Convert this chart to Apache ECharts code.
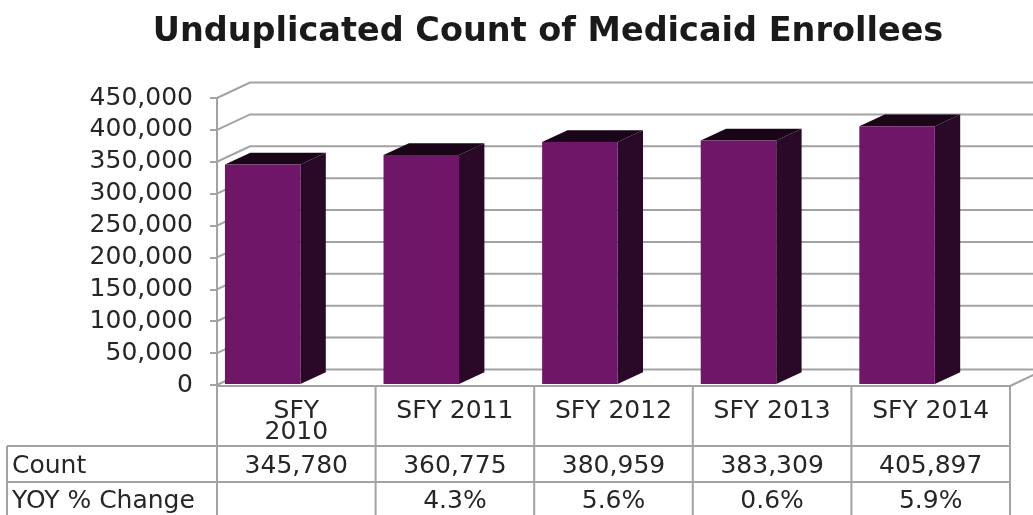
<!DOCTYPE html>
<html>
<head>
<meta charset="utf-8">
<script src="https://cdn.jsdelivr.net/npm/echarts@6/dist/echarts.min.js"></script>
<style>
html,body{margin:0;padding:0;background:#fff;}
#chart{width:1033px;height:515px;}
</style>
</head>
<body>
<div id="chart"></div>
<script>
var titleText = 'Unduplicated Count of Medicaid Enrollees';
var categories = ['SFY 2010', 'SFY 2011', 'SFY 2012', 'SFY 2013', 'SFY 2014'];
var headerLabels = ['SFY\n2010', 'SFY 2011', 'SFY 2012', 'SFY 2013', 'SFY 2014'];
var counts = [345780, 360775, 380959, 383309, 405897];
var yoyChange = ['', '4.3%', '5.6%', '0.6%', '5.9%'];
var rowLabels = ['Count', 'YOY % Change'];
var yTicks = [0, 50000, 100000, 150000, 200000, 250000, 300000, 350000, 400000, 450000];

var FONT = '"DejaVu Sans", sans-serif';
var TXT = '#262626';
var LINE = '#a3a3a3';
var FRONT = '#6f1669';
var SIDE = '#2a0827';
var TOP = '#1a0418';
var FS = 25;

// table layout (pixels)
var TBL_TOP = 386, ROW1 = 446, ROW2 = 482, TBL_BOTTOM = 520, LABEL_LEFT = 7;

var chart = echarts.init(document.getElementById('chart'), null, {renderer: 'canvas'});

function wallRender(params, api) {
  var cs = params.coordSys;
  var catW = api.size([1, 0])[0];
  var dx = catW * 0.208, dy = -dx * 0.47;
  var y = api.coord([0, api.value(0)])[1];
  var left = cs.x;
  var children = [{
    type: 'polyline',
    shape: {points: [[left, y], [left + dx, y + dy], [cs.x + cs.width + dx + 40, y + dy]]},
    style: {stroke: LINE, lineWidth: 2, fill: null}
  }];
  if (params.dataIndex === 0) {
    var rx = cs.x + cs.width;
    children.push({
      type: 'line',
      shape: {x1: rx, y1: TBL_TOP, x2: rx + dx, y2: TBL_TOP + dy},
      style: {stroke: LINE, lineWidth: 2}
    });
  }
  return {type: 'group', children: children};
}

function barRender(params, api) {
  var i = api.value(0), v = api.value(1);
  var catW = api.size([1, 0])[0];
  var base = api.coord([i, 0]);
  var topPt = api.coord([i, v]);
  var x0 = base[0] - catW / 2 + catW * 0.05;
  var w = catW * 0.476;
  var dx = catW * 0.16, dy = -dx * 0.46;
  var top = topPt[1], bottom = base[1] - 1;
  return {
    type: 'group',
    children: [
      {type: 'polygon', shape: {points: [[x0 + w, top], [x0 + w + dx, top + dy], [x0 + w + dx, bottom + dy], [x0 + w, bottom]]}, style: {fill: SIDE}},
      {type: 'polygon', shape: {points: [[x0, top], [x0 + dx, top + dy], [x0 + w + dx, top + dy], [x0 + w, top]]}, style: {fill: TOP}},
      {type: 'rect', shape: {x: x0, y: top, width: w, height: bottom - top}, style: {fill: FRONT}}
    ]
  };
}

function tableRender(params, api) {
  var i = params.dataIndex;
  var catW = api.size([1, 0])[0];
  var c = api.coord([i, 0])[0];
  var l = c - catW / 2, r = c + catW / 2;
  var ls = {stroke: LINE, lineWidth: 2};
  var font = FS + 'px ' + FONT;
  var children = [
    {type: 'line', shape: {x1: l, y1: TBL_TOP, x2: r, y2: TBL_TOP}, style: ls},
    {type: 'line', shape: {x1: l, y1: ROW1, x2: r, y2: ROW1}, style: ls},
    {type: 'line', shape: {x1: l, y1: ROW2, x2: r, y2: ROW2}, style: ls},
    {type: 'line', shape: {x1: r, y1: TBL_TOP, x2: r, y2: TBL_BOTTOM}, style: ls},
    {type: 'text', style: {text: headerLabels[i], x: c, y: 401, align: 'center', verticalAlign: 'top', font: font, lineHeight: 21, fill: TXT}},
    {type: 'text', style: {text: counts[i].toLocaleString('en-US'), x: c, y: 466, align: 'center', verticalAlign: 'middle', font: font, fill: TXT}},
    {type: 'text', style: {text: yoyChange[i], x: c, y: 501, align: 'center', verticalAlign: 'middle', font: font, fill: TXT}}
  ];
  if (i === 0) {
    children.push({type: 'line', shape: {x1: l, y1: TBL_TOP, x2: l, y2: TBL_BOTTOM}, style: ls});
    children.push({type: 'line', shape: {x1: LABEL_LEFT, y1: ROW1, x2: l, y2: ROW1}, style: ls});
    children.push({type: 'line', shape: {x1: LABEL_LEFT, y1: ROW2, x2: l, y2: ROW2}, style: ls});
    children.push({type: 'line', shape: {x1: LABEL_LEFT, y1: ROW1, x2: LABEL_LEFT, y2: TBL_BOTTOM}, style: ls});
    children.push({type: 'text', style: {text: rowLabels[0], x: 12, y: 466, align: 'left', verticalAlign: 'middle', font: font, fill: TXT}});
    children.push({type: 'text', style: {text: rowLabels[1], x: 12, y: 501, align: 'left', verticalAlign: 'middle', font: font, fill: TXT}});
  }
  return {type: 'group', children: children};
}

var option = {
  backgroundColor: '#ffffff',
  animation: false,
  title: {
    text: titleText,
    left: 543,
    textAlign: 'center',
    top: 8,
    textStyle: {fontFamily: FONT, fontWeight: 'bold', fontSize: 33.5, color: '#1a1a1a', lineHeight: 38}
  },
  grid: {left: 217, right: 23, top: 98, bottom: 130, containLabel: false},
  xAxis: {
    type: 'category',
    data: categories,
    axisLine: {show: false},
    axisTick: {show: false},
    axisLabel: {show: false},
    splitLine: {show: false}
  },
  yAxis: {
    type: 'value',
    min: 0,
    max: 450000,
    interval: 50000,
    axisLine: {show: true, lineStyle: {color: LINE, width: 2}},
    axisTick: {show: true, length: 7, lineStyle: {color: LINE, width: 2}},
    splitLine: {show: false},
    axisLabel: {
      margin: 24,
      fontFamily: FONT,
      fontSize: FS,
      color: TXT,
      formatter: function (v) { return v.toLocaleString('en-US'); }
    }
  },
  series: [
    {
      type: 'custom',
      name: 'walls',
      z: 1,
      silent: true,
      renderItem: wallRender,
      data: yTicks.map(function (t) { return [t]; }),
      encode: {y: 0}
    },
    {
      type: 'custom',
      name: 'Count',
      z: 3,
      renderItem: barRender,
      data: counts.map(function (v, i) { return [i, v]; }),
      encode: {x: 0, y: 1}
    },
    {
      type: 'custom',
      name: 'table',
      z: 4,
      silent: true,
      renderItem: tableRender,
      data: categories.map(function (c, i) { return [i, 0]; }),
      encode: {x: 0, y: 1}
    }
  ]
};
chart.setOption(option);
</script>
</body>
</html>
